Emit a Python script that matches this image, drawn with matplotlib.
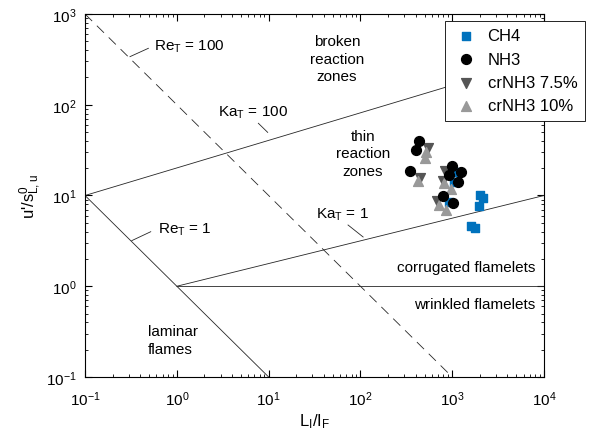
import matplotlib
matplotlib.use("Agg")
import matplotlib.pyplot as plt

plt.rcParams['font.family'] = ['Liberation Sans', 'DejaVu Sans']
plt.rcParams['mathtext.fontset'] = 'custom'
plt.rcParams['mathtext.rm'] = 'Liberation Sans'
plt.rcParams['mathtext.it'] = 'Liberation Sans'
plt.rcParams['mathtext.bf'] = 'Liberation Sans:bold'

# measured points (L/lF, u'/sL0)
ch4_x = [2010, 2180, 1960, 1600, 1770, 1120, 1047, 930]
ch4_y = [10.1, 9.3, 7.72, 4.65, 4.35, 18.3, 14.2, 8.55]
nh3_x = [435, 400, 347, 988, 923, 1247, 1165, 800, 1012]
nh3_y = [40.2, 32.0, 18.5, 21.3, 16.9, 18.0, 14.2, 9.95, 8.27]
cr75_x = [540, 450, 835, 800, 690]
cr75_y = [33.5, 15.5, 18.5, 14.5, 8.6]
cr10_x = [520, 505, 425, 810, 970, 720, 849]
cr10_y = [30.5, 25.7, 14.6, 13.8, 11.8, 7.8, 6.92]

# regime boundaries (end points)
re1_x, re1_y = [0.1, 10], [10, 0.1]
re100_x, re100_y = [0.1, 1000], [1000, 0.1]
ka1_x, ka1_y = [1, 1e4], [1, 10]
ka100_x, ka100_y = [0.1, 1e4], [10, 330]
flat_x, flat_y = [1, 1e4], [1, 1]

fig = plt.figure(figsize=(6, 4.39), dpi=100)
ax = fig.add_axes([0.1417, 0.139, 0.765, 0.8268])
ax.set_xscale('log')
ax.set_yscale('log')
ax.set_xlim(0.1, 1e4)
ax.set_ylim(0.1, 1e3)

lc = '#262626'
lw = 0.6
ax.plot(re1_x, re1_y, color=lc, lw=lw)
ax.plot(re100_x, re100_y, color=lc, lw=lw, dashes=(12, 8))
ax.plot(ka1_x, ka1_y, color=lc, lw=lw)
ax.plot(ka100_x, ka100_y, color=lc, lw=lw)
ax.plot(flat_x, flat_y, color=lc, lw=lw)

# labels with leader lines
fs = 11
ax.text(0.565, 441, 'Re$_T$ = 100', fontsize=fs, va='center')
ax.plot([0.309, 0.49], [339, 419], color=lc, lw=lw)
ax.text(2.79, 83.7, 'Ka$_T$ = 100', fontsize=fs, va='center')
ax.plot([7.73, 9.77], [62.5, 49.6], color=lc, lw=lw)
ax.text(0.629, 4.27, 'Re$_T$ = 1', fontsize=fs, va='center')
ax.plot([0.323, 0.52], [3.18, 3.99], color=lc, lw=lw)
ax.text(124, 6.25, 'Ka$_T$ = 1', fontsize=fs, va='center', ha='right')
ax.plot([73.3, 107], [4.73, 3.49], color=lc, lw=lw)

ax.text(55.6, 321, 'broken\nreaction\nzones', fontsize=fs, ha='center', va='center',
        linespacing=1.3)
ax.text(107, 29.2, 'thin\nreaction\nzones', fontsize=fs, ha='center', va='center',
        linespacing=1.3)
ax.text(7980, 1.63, 'corrugated flamelets', fontsize=fs, ha='right', va='center')
ax.text(7980, 0.637, 'wrinkled flamelets', fontsize=fs, ha='right', va='center')
ax.text(0.485, 0.256, 'laminar\nflames', fontsize=fs, ha='left', va='center',
        linespacing=1.3)

ax.scatter(ch4_x, ch4_y, marker='s', s=30, color='#0072BD', label='CH4', zorder=3)
ax.scatter(nh3_x, nh3_y, marker='o', s=50, color='black', label='NH3', zorder=5)
ax.scatter(cr75_x, cr75_y, marker='v', s=50, color='#555555', label='crNH3 7.5%', zorder=4)
ax.scatter(cr10_x, cr10_y, marker='^', s=50, color='#999999', label='crNH3 10%', zorder=4)

ax.tick_params(which='both', direction='in', top=True, right=True, labelsize=11)
ax.tick_params(which='major', length=5, width=0.8)
ax.tick_params(which='minor', length=2.5, width=0.6)
ax.tick_params(axis='x', which='major', pad=9)
ax.tick_params(axis='y', which='major', pad=6)
for s in ax.spines.values():
    s.set_linewidth(0.8)

ax.set_xlabel('L$_I$/I$_F$', fontsize=12, labelpad=2)
ax.set_ylabel("u'/s$^0_{L,u}$", fontsize=12, labelpad=2)

leg = fig.legend(loc='upper left', bbox_to_anchor=(0.7417, 0.95), fontsize=12,
                 frameon=True, fancybox=False, edgecolor='black', framealpha=1,
                 handletextpad=0.5, borderpad=0.45, labelspacing=0.5, handlelength=1.6,
                 borderaxespad=0)
leg.get_frame().set_linewidth(0.6)

fig.savefig('out.png', dpi=100)
